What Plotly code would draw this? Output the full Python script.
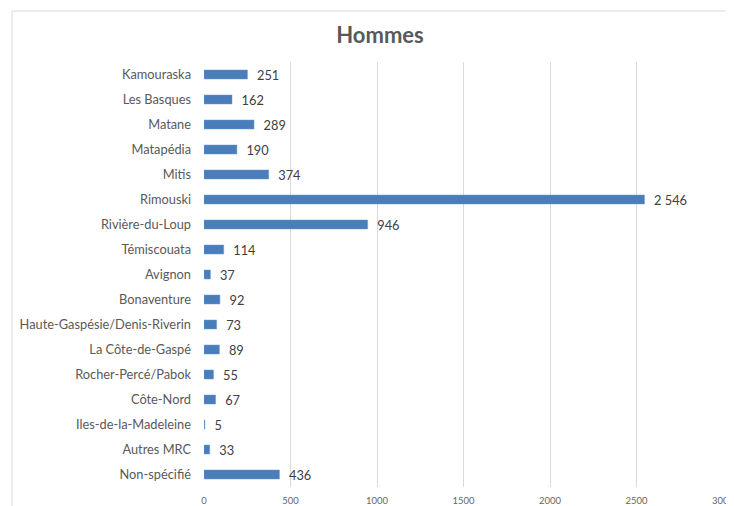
import plotly.graph_objects as go

categories = ["Kamouraska", "Les Basques", "Matane", "Matapédia", "Mitis", "Rimouski",
              "Rivière-du-Loup", "Témiscouata", "Avignon", "Bonaventure",
              "Haute-Gaspésie/Denis-Riverin", "La Côte-de-Gaspé", "Rocher-Percé/Pabok",
              "Côte-Nord", "Iles-de-la-Madeleine", "Autres MRC", "Non-spécifié"]
values = [251, 162, 289, 190, 374, 2546, 946, 114, 37, 92, 73, 89, 55, 67, 5, 33, 436]
tick_vals = [0, 500, 1000, 1500, 2000, 2500, 3000]

labels = ["\u00a0\u00a0" + f"{v:,}".replace(",", " ") for v in values]

fig = go.Figure(go.Bar(
    y=categories, x=values, orientation="h",
    marker=dict(color="#4A7EBB", line=dict(color="#6A98CF", width=0.5)),
    width=0.36,
    text=labels, textposition="outside", cliponaxis=False, constraintext="none",
    textfont=dict(family="Lato, sans-serif", size=12.8, color="#404040"),
))

# page body adds an 8px offset; positions below compensate for it
OFF = 8
W, H = 734, 506
L = 204 - OFF
T = 62 - OFF
R = W - (723 - OFF)
B = H - (487 - OFF)
pw = W - L - R
ph = H - T - B

fig.update_layout(
    width=W, height=H,
    margin=dict(l=L, r=R, t=T, b=B, autoexpand=False),
    plot_bgcolor="white", paper_bgcolor="white",
    showlegend=False,
    title=dict(text="<b>Hommes</b>", x=(380 - OFF) / W, xanchor="center",
               y=1 - (35 - OFF) / H, yanchor="middle",
               font=dict(family="Lato, sans-serif", size=22, color="#595959")),
    xaxis=dict(range=[0, 3000], tickvals=tick_vals, showgrid=True, gridcolor="#D9D9D9",
               gridwidth=1, zeroline=False, showline=False, ticks="", automargin=False,
               ticklabelstandoff=6,
               tickfont=dict(family="Lato, sans-serif", size=9.5, color="#666666")),
    yaxis=dict(autorange="reversed", showgrid=False, zeroline=False, ticks="", ticklen=0,
               automargin=False, ticklabelstandoff=12,
               tickfont=dict(family="Lato, sans-serif", size=12.8, color="#595959")),
    bargap=0.64,
    shapes=[dict(type="rect", xref="paper", yref="paper",
                 x0=(12 - OFF - L) / pw, x1=(770 - OFF - L) / pw,
                 y0=(H - B - 530) / ph, y1=(H - B - (11 - OFF)) / ph,
                 line=dict(color="#D9D9D9", width=1), fillcolor="rgba(0,0,0,0)", layer="below")],
)

fig.write_html("out.html")
